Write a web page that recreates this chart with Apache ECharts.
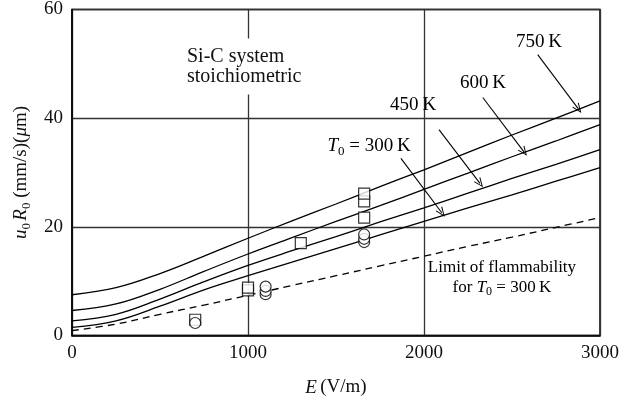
<!DOCTYPE html>
<html><head><meta charset="utf-8">
<script src="https://cdn.jsdelivr.net/npm/echarts@6/dist/echarts.min.js"></script>
<style>html,body{margin:0;padding:0;background:#fff}#c{width:635px;height:402px}</style>
</head><body><div id="c"></div>
<script>
// ---- data ----
const E = [0, 250, 500, 750, 1000, 1250, 1500, 1750, 2000, 2250, 2500, 2750, 3000];
const curve300 = [1.5, 2.7, 5.4, 8.4, 11.0, 13.5, 16.0, 18.5, 21.0, 23.5, 25.9, 28.4, 30.9];
const curve450 = [2.7, 3.9, 6.7, 9.9, 12.9, 15.6, 18.2, 20.9, 23.5, 26.2, 28.9, 31.5, 34.2];
const curve600 = [4.6, 5.8, 8.5, 11.8, 15.0, 18.0, 21.0, 23.9, 26.9, 29.9, 32.9, 35.8, 38.8];
const curve750 = [7.5, 8.8, 11.4, 14.6, 17.9, 21.1, 24.2, 27.4, 30.5, 33.7, 36.9, 40.0, 43.2];
const limit300 = [0.9, 2.1, 3.9, 5.6, 7.4, 9.2, 11.0, 12.8, 14.6, 16.4, 18.1, 19.9, 21.7];
const squareE = [700, 1000, 1000, 1300, 1660, 1660, 1660];
const squareV = [2.9, 8.3, 8.8, 17.0, 21.7, 24.7, 26.1];
const circleE = [700, 1100, 1100, 1100, 1660, 1660, 1660];
const circleV = [2.3, 7.6, 8.2, 9.0, 17.2, 17.8, 18.6];
const xTicks = [0, 1000, 2000, 3000];
const yTicks = [0, 20, 40, 60];
// annotation arrows (data units)
const arrowFrom = [[2646, 51.7], [2334, 43.8], [2085, 37.9], [1869, 32.6]];
const arrowTo = [[2877, 41.7], [2568, 33.8], [2318, 28.0], [2101, 22.6]];

const FONT = 'Liberation Serif';
const pair = (xs, ys) => xs.map((x, i) => [x, ys[i]]);
const chevron = 'path://M5,0 L10,12 L8.8,12.4 L5,3 L1.2,12.4 L0,12 Z';

const chart = echarts.init(document.getElementById('c'), null, {renderer: 'canvas'});

const lineSeries = (data, dashed) => ({
  type: 'line', data, showSymbol: false, smooth: 0.4,
  lineStyle: {color: '#000', width: 1.3, type: dashed ? [7, 5] : 'solid'},
  silent: true, z: 3
});

const rich = {
  n: {fontFamily: FONT, fontSize: 19, lineHeight: 24, color: '#111'},
  i: {fontFamily: FONT, fontSize: 19, lineHeight: 24, fontStyle: 'italic', color: '#111'},
  s: {fontFamily: FONT, fontSize: 13, lineHeight: 13, verticalAlign: 'bottom', color: '#111'}
};

chart.setOption({
  animation: false,
  backgroundColor: '#fff',
  grid: {left: 72, right: 35, top: 7, bottom: 65, show: true, borderColor: '#000', borderWidth: 1.5, backgroundColor: 'transparent'},
  xAxis: {
    type: 'value', min: xTicks[0], max: xTicks[xTicks.length - 1], interval: xTicks[1] - xTicks[0],
    axisLine: {show: true, lineStyle: {color: '#000', width: 1.5}},
    axisTick: {show: false},
    axisLabel: {fontFamily: FONT, fontSize: 19, color: '#111', margin: 8, formatter: v => String(v)},
    splitLine: {show: true, lineStyle: {color: '#333', width: 1.3}},
    name: '{i|E} {n|(V/m)}', nameLocation: 'middle', nameGap: 40,
    nameTextStyle: {rich}
  },
  yAxis: {
    type: 'value', min: yTicks[0], max: yTicks[yTicks.length - 1], interval: yTicks[1] - yTicks[0],
    axisLine: {show: true, lineStyle: {color: '#000', width: 1.5}},
    axisTick: {show: false},
    axisLabel: {fontFamily: FONT, fontSize: 19, color: '#111', margin: 9, formatter: v => String(v)},
    splitLine: {show: true, lineStyle: {color: '#333', width: 1.3}},
    name: '{i|u}{s|0}\u2009{i|R}{s|0}{n| (mm/s)(}{i|\u03bc}{n|m)}', nameLocation: 'middle', nameGap: 36,
    nameRotate: 90,
    nameTextStyle: {rich}
  },
  series: [
    lineSeries(pair(E, curve300)),
    lineSeries(pair(E, curve450)),
    lineSeries(pair(E, curve600)),
    lineSeries(pair(E, curve750)),
    lineSeries(pair(E, limit300), true),
    {
      type: 'line', data: [], silent: true,
      markLine: {
        silent: true, animation: false,
        symbol: ['none', chevron], symbolSize: [8, 10],
        label: {show: false},
        lineStyle: {color: '#000', width: 1.1, type: 'solid'},
        data: arrowFrom.map((f, k) => [{coord: f}, {coord: arrowTo[k]}])
      }
    },
    {
      type: 'scatter', data: pair(squareE, squareV), symbol: 'rect', symbolSize: 11,
      itemStyle: {color: '#fff', borderColor: '#000', borderWidth: 1.2}, z: 5, silent: true
    },
    {
      type: 'scatter', data: pair(circleE, circleV), symbol: 'circle', symbolSize: 11,
      itemStyle: {color: '#fff', borderColor: '#000', borderWidth: 1.2}, z: 6, silent: true
    }
  ]
});

// text annotations placed at data positions
const px = (x, y) => chart.convertToPixel({gridIndex: 0}, [x, y]);
const labels = [
  {pos: [2653, 54.0], text: '{n|750\u2009K}', align: 'center'},
  {pos: [2335, 46.5], text: '{n|600\u2009K}', align: 'center'},
  {pos: [1938, 42.5], text: '{n|450\u2009K}', align: 'center'},
  {pos: [1688, 34.8], text: '{i|T}{s|0}{n| = 300\u2009K}', align: 'center'}
];
const graphic = labels.map(l => {
  const p = px(l.pos[0], l.pos[1]);
  return {type: 'text', x: p[0], y: p[1], z: 50,
    style: {text: l.text, rich, align: l.align, verticalAlign: 'middle'}};
});
const pSi = px(642, 49.5);
graphic.push({type: 'text', x: pSi[0], y: pSi[1], z: 40,
  style: {text: 'Si-C system\nstoichiometric', fontFamily: FONT, fontSize: 20, lineHeight: 20,
    fill: '#111', align: 'left', verticalAlign: 'middle', backgroundColor: '#fff', padding: [8, 4, 8, 2]}});
const pLim = px(2443, 10.6);
graphic.push({type: 'text', x: pLim[0], y: pLim[1], z: 40,
  style: {text: '{n|Limit of flammability}\n{n|for }{i|T}{s|0}{n| = 300\u2009K}',
    rich: {n: {fontFamily: FONT, fontSize: 17, lineHeight: 20, color: '#111', align: 'center'},
           i: {fontFamily: FONT, fontSize: 17, lineHeight: 20, fontStyle: 'italic', color: '#111'},
           s: {fontFamily: FONT, fontSize: 12, lineHeight: 12, verticalAlign: 'bottom', color: '#111'}},
    align: 'center', verticalAlign: 'middle'}});
chart.setOption({graphic});
</script></body></html>
